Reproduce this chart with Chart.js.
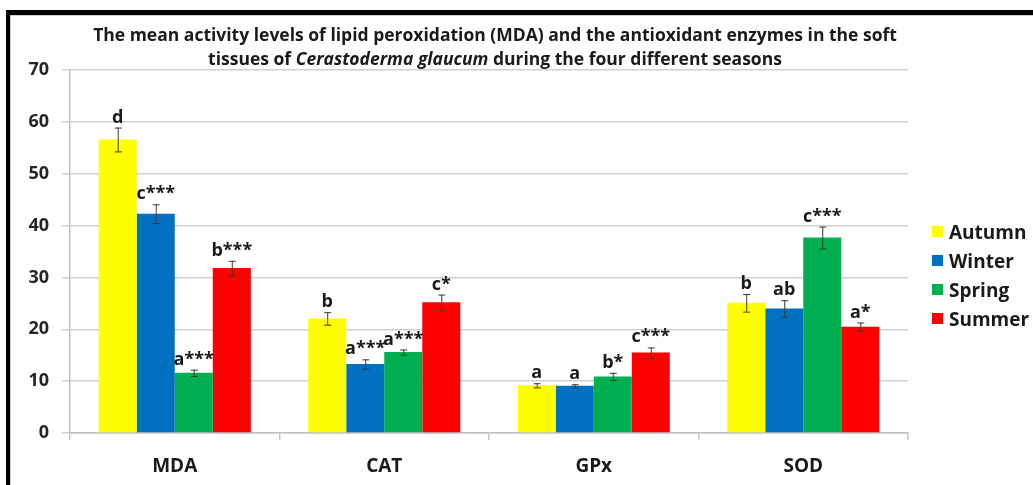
<!DOCTYPE html>
<html>
<head>
<meta charset="utf-8">
<script src="https://cdn.jsdelivr.net/npm/chart.js@4.4.0/dist/chart.umd.min.js"></script>
<style>
  html, body { margin: 0; padding: 0; background: #fff; }
  #wrap { position: relative; width: 1033px; height: 485px; overflow: hidden; font-family: 'Open Sans', sans-serif; }
  #frame {
    position: absolute; left: 6px; top: 10px; width: 1040px; height: 472px;
    border-top: 5px solid #000; border-left: 4px solid #000; border-bottom: 1px solid #ddd;
    box-shadow: inset 1px 1px 0 #d4d4d4;
  }
  #title {
    position: absolute; left: 45px; width: 900px; top: 22px;
    text-align: center; font-weight: 700; font-size: 17.5px; line-height: 24px; color: #1a1a1a;
  }
  #legend { position: absolute; left: 932px; top: 217px; }
  .item { display: flex; align-items: center; height: 29px; font-weight: 700; font-size: 19px; color: #1a1a1a; }
  .sw { width: 11px; height: 11px; margin-right: 6px; }
  canvas { position: absolute; left: 0; top: 0; }
</style>
</head>
<body>
<div id="wrap">
  <div id="frame"></div>
  <canvas id="chart" width="1033" height="485"></canvas>
  <div id="title">The mean activity levels of lipid peroxidation (MDA) and the antioxidant enzymes in the soft<br>tissues of <i>Cerastoderma glaucum</i> during the four different seasons</div>
  <div id="legend"></div>
</div>
<script>
"use strict";

const categories = ['MDA', 'CAT', 'GPx', 'SOD'];
const seasons = ['Autumn', 'Winter', 'Spring', 'Summer'];

const autumn = [56.6, 22.1, 9.2, 25.1];
const winter = [42.3, 13.3, 9.1, 24.0];
const spring = [11.6, 15.6, 10.9, 37.7];
const summer = [31.8, 25.2, 15.5, 20.5];

const autumnErr = [2.3, 1.2, 0.4, 1.7];
const winterErr = [1.8, 0.9, 0.3, 1.6];
const springErr = [0.6, 0.5, 0.7, 2.1];
const summerErr = [1.4, 1.5, 1.0, 0.8];

const autumnSig = ['d', 'b', 'a', 'b'];
const winterSig = ['c***', 'a***', 'a', 'ab'];
const springSig = ['a***', 'a***', 'b*', 'c***'];
const summerSig = ['b***', 'c*', 'c***', 'a*'];

const yTicks = [0, 10, 20, 30, 40, 50, 60, 70];

const colors = ['#ffff00', '#0070c0', '#00b050', '#ff0000'];
const FONT = "'Open Sans', sans-serif";

const values = [autumn, winter, spring, summer];
const errors = [autumnErr, winterErr, springErr, summerErr];
const sigs = [autumnSig, winterSig, springSig, summerSig];

// legend in HTML so it can sit where the original has it
const legendEl = document.getElementById('legend');
seasons.forEach((s, i) => {
  const row = document.createElement('div');
  row.className = 'item';
  row.innerHTML = `<span class="sw" style="background:${colors[i]}"></span>${s}`;
  legendEl.appendChild(row);
});

// error bars + significance letters
const errorBars = {
  id: 'errorBars',
  afterDatasetsDraw(chart) {
    const ctx = chart.ctx;
    const y = chart.scales.y;
    ctx.save();
    chart.data.datasets.forEach((ds, i) => {
      const meta = chart.getDatasetMeta(i);
      meta.data.forEach((bar, j) => {
        const v = ds.data[j];
        const e = errors[i][j];
        const top = y.getPixelForValue(v + e);
        const bot = y.getPixelForValue(v - e);
        ctx.strokeStyle = '#3a3a3a';
        ctx.lineWidth = 1;
        ctx.beginPath();
        ctx.moveTo(bar.x + 0.5, top); ctx.lineTo(bar.x + 0.5, bot);
        ctx.moveTo(bar.x - 3, top + 0.5); ctx.lineTo(bar.x + 4, top + 0.5);
        ctx.moveTo(bar.x - 3, bot + 0.5); ctx.lineTo(bar.x + 4, bot + 0.5);
        ctx.stroke();

        ctx.fillStyle = '#1a1a1a';
        ctx.font = `bold 18px ${FONT}`;
        ctx.textAlign = 'center';
        ctx.textBaseline = 'alphabetic';
        ctx.fillText(sigs[i][j], bar.x, top - 5);
      });
    });
    ctx.restore();
  },
};

new Chart(document.getElementById('chart'), {
  type: 'bar',
  data: {
    labels: categories,
    datasets: seasons.map((s, i) => ({
      label: s,
      data: values[i],
      backgroundColor: colors[i],
      borderWidth: 0,
      barPercentage: 1,
      categoryPercentage: 0.726,
    })),
  },
  options: {
    responsive: false,
    devicePixelRatio: 1,
    animation: false,
    layout: { padding: { left: 0, top: 70, right: 125, bottom: 8 } },
    plugins: {
      legend: { display: false },
      title: { display: false },
      tooltip: { enabled: false },
    },
    scales: {
      x: {
        grid: { display: true, drawOnChartArea: false, drawTicks: true, tickLength: 7, color: '#c8c8c8', lineWidth: 1.5 },
        border: { color: '#c0c0c0', width: 1.5 },
        ticks: { color: '#1a1a1a', font: { family: FONT, size: 19, weight: 'bold' }, padding: 15 },
        afterFit(scale) { scale.height = 44; },
      },
      y: {
        min: 0,
        max: 70,
        afterBuildTicks(scale) { scale.ticks = yTicks.map(v => ({ value: v })); },
        grid: { color: '#d0d0d0', lineWidth: 1.5, tickLength: 8 },
        border: { color: '#c0c0c0', width: 1.5 },
        ticks: { color: '#262626', font: { family: FONT, size: 18, weight: 'bold' }, padding: 13 },
        afterFit(scale) { scale.width = 70; },
      },
    },
  },
  plugins: [errorBars],
});
</script>
</body>
</html>
